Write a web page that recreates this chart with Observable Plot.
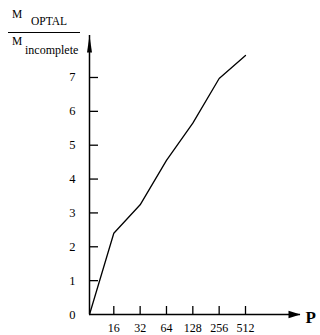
<!DOCTYPE html>
<html>
<head>
<meta charset="utf-8">
<script src="https://cdn.jsdelivr.net/npm/d3@7"></script>
<script src="https://cdn.jsdelivr.net/npm/@observablehq/plot@0.6"></script>
<style>
  html, body { margin: 0; padding: 0; background: #fff; }
  #wrap { position: relative; width: 320px; height: 335px; font-family: "Liberation Serif", "Times New Roman", serif; color: #000; }
  #wrap svg { position: absolute; left: 0; top: 0; }
  .t { position: absolute; white-space: nowrap; line-height: 1; font-family: "Liberation Serif", "Times New Roman", serif; }
  #frac { position: absolute; left: 8px; top: 32px; width: 72px; height: 0; border-top: 1.5px solid #000; }
</style>
</head>
<body>
<div id="wrap">
  <span class="t" style="left:12px; top:9px; font-size:11.5px;">M</span>
  <span class="t" style="left:31px; top:16px; font-size:11.5px;">OPTAL</span>
  <div id="frac"></div>
  <span class="t" style="left:12px; top:36px; font-size:11.5px;">M</span>
  <span class="t" style="left:25px; top:44px; font-size:12px;">incomplete</span>
</div>
<script>
// Data
const pValues = [16, 32, 64, 128, 256, 512];
const ratioValues = [2.40, 3.24, 4.55, 5.65, 6.97, 7.65];
const yTicks = [0, 1, 2, 3, 4, 5, 6, 7];
const xTicks = [16, 32, 64, 128, 256, 512];
// axis extent (origin and arrow tip) on the log2 P scale
const pAxisStart = 8.44;
const pAxisEnd = 2177;
const yMax = 8.24;

const series = [{P: pAxisStart, r: 0}].concat(pValues.map((p, i) => ({P: p, r: ratioValues[i]})));

const arrowUp = {draw(ctx) { ctx.moveTo(0, 0); ctx.lineTo(-2.5, 17); ctx.lineTo(2.5, 17); ctx.closePath(); }};
const arrowRight = {draw(ctx) { ctx.moveTo(0, 0); ctx.lineTo(-12, -3.8); ctx.lineTo(-12, 3.8); ctx.closePath(); }};

const chart = Plot.plot({
  width: 320,
  height: 335,
  marginTop: 35,
  marginBottom: 21,
  marginLeft: 89,
  marginRight: 20,
  style: {fontFamily: "'Liberation Serif', 'Times New Roman', serif", fontSize: "12px", color: "#000", background: "transparent"},
  x: {type: "log", base: 2, domain: [pAxisStart, pAxisEnd]},
  y: {domain: [0, yMax]},
  marks: [
    Plot.ruleX([pAxisStart], {stroke: "#000", strokeWidth: 1.5}),
    Plot.ruleY([0], {stroke: "#000", strokeWidth: 1.5}),
    Plot.axisY({ticks: yTicks.filter(d => d > 0), tickSize: 9, dx: 9, fill: "none", stroke: "#000", strokeWidth: 1.3, label: null}),
    Plot.axisY({ticks: yTicks, tickSize: 0, tickPadding: 14, fill: "#000", fontSize: 12.5, label: null}),
    Plot.axisX({ticks: xTicks, tickSize: 8, dy: -8, fill: "none", stroke: "#000", strokeWidth: 1.3, label: null}),
    Plot.axisX({ticks: xTicks, tickSize: 0, tickPadding: 9, fill: "#000", fontSize: 12, tickFormat: d => String(d), label: null}),
    Plot.line(series, {x: "P", y: "r", stroke: "#000", strokeWidth: 1.3}),
    Plot.dot(["up"], {frameAnchor: "top-left", symbol: arrowUp, fill: "#000", stroke: "none"}),
    Plot.dot(["right"], {frameAnchor: "bottom-right", symbol: arrowRight, fill: "#000", stroke: "none"}),
    Plot.text(["P"], {text: d => d, frameAnchor: "bottom-right", dx: 5, dy: 3, textAnchor: "start", lineAnchor: "middle", fontWeight: "bold", fontSize: 17, fill: "#000"})
  ]
});
document.getElementById("wrap").prepend(chart);
</script>
</body>
</html>
